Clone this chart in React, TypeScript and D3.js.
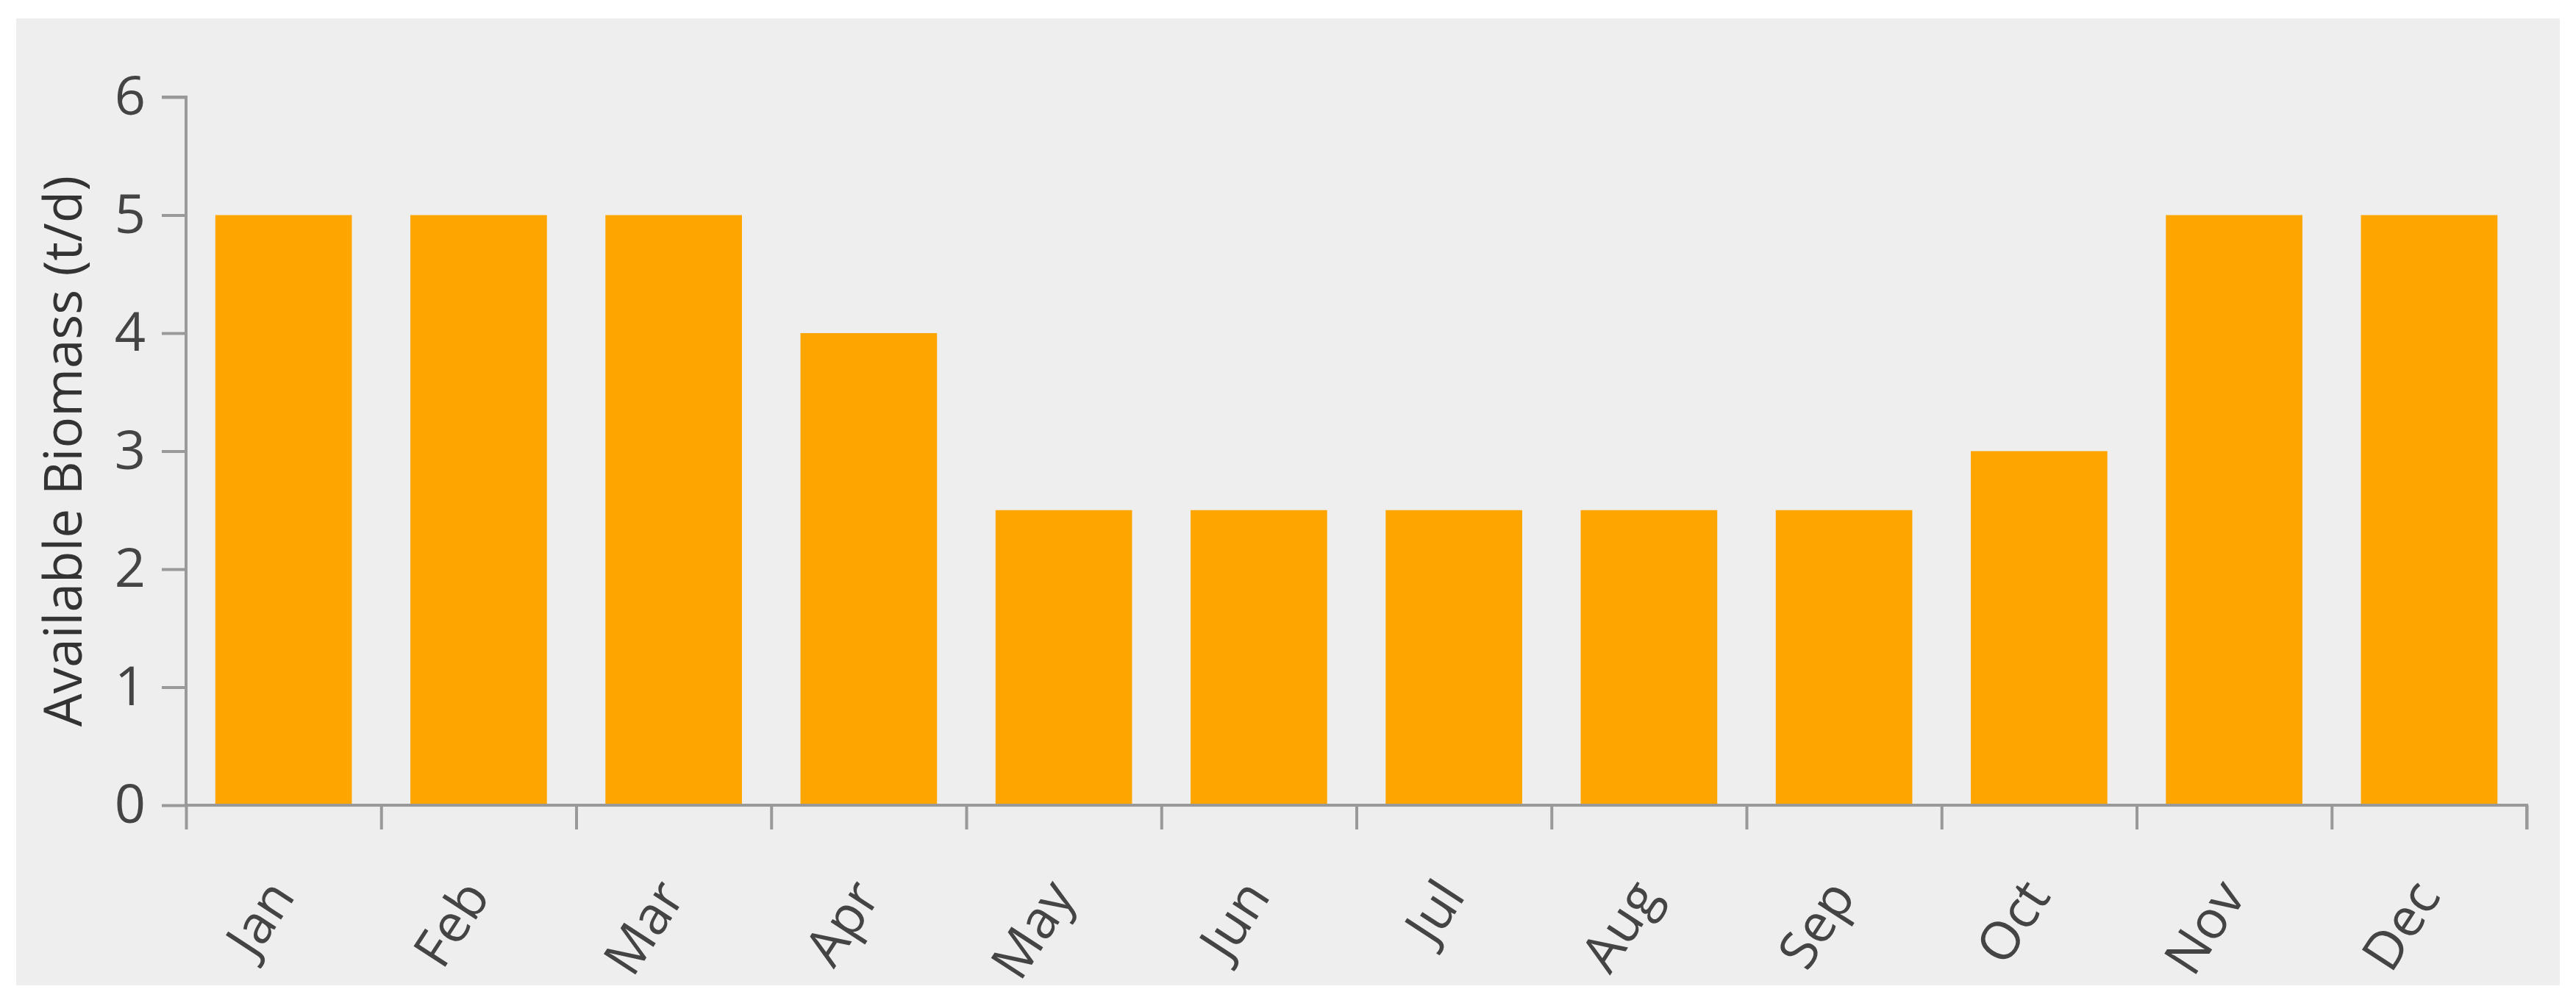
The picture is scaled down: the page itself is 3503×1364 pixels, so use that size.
import * as d3 from "d3";
import { useRef, useEffect } from "react";

// month categories and biomass values (t/d)
const months = ["Jan", "Feb", "Mar", "Apr", "May", "Jun", "Jul", "Aug", "Sep", "Oct", "Nov", "Dec"];
const biomass = [5, 5, 5, 4, 2.5, 2.5, 2.5, 2.5, 2.5, 3, 5, 5];
const yTicks = [0, 1, 2, 3, 4, 5, 6];

const W = 3503;
const H = 1364;
const FONT = "'Open Sans', 'Noto Sans', sans-serif";

export default function App() {
  const svgRef = useRef<SVGSVGElement>(null);

  useEffect(() => {
    const svg = d3.select(svgRef.current);
    svg.selectAll("*").remove();

    // plot area
    const left = 253, right = 3436, top = 132, bottom = 1095;

    // chart panel background
    svg.append("rect").attr("x", 22).attr("y", 25).attr("width", 3459).attr("height", 1315).attr("fill", "#eeeeee");

    const x = d3.scaleBand().domain(months).range([left, right]).paddingInner(0.3).paddingOuter(0.15);
    const xEdges = d3.scaleLinear().domain([0, months.length]).range([left, right]);
    const y = d3.scaleLinear().domain([0, 6]).range([bottom, top]);

    // bars
    svg.append("g").selectAll("rect").data(biomass).join("rect")
      .attr("x", (d, i) => x(months[i])!)
      .attr("y", d => y(d))
      .attr("width", x.bandwidth())
      .attr("height", d => y(0) - y(d))
      .attr("fill", "#ffa500");

    // y axis
    const gy = svg.append("g").attr("transform", `translate(${left},0)`)
      .call(d3.axisLeft(y).tickValues(yTicks).tickSize(33).tickPadding(22).tickFormat(d3.format("d")));
    gy.select(".domain").attr("stroke", "#999").attr("stroke-width", 4).attr("d", `M-33,${top}H0V${bottom}`);
    gy.selectAll(".tick line").attr("stroke", "#999").attr("stroke-width", 4);
    gy.selectAll(".tick text").attr("fill", "#444").style("font-family", FONT).style("font-size", "74px");

    // x axis: ticks on band edges
    const gx = svg.append("g").attr("transform", `translate(0,${bottom})`)
      .call(d3.axisBottom(xEdges).ticks(12).tickSize(33).tickFormat(() => ""));
    gx.select(".domain").attr("stroke", "#999").attr("stroke-width", 4).attr("d", `M${left},0H${right}V33`);
    gx.selectAll(".tick line").attr("stroke", "#999").attr("stroke-width", 4);

    // rotated month labels
    svg.append("g").selectAll("text").data(months).join("text")
      .attr("transform", d => `translate(${x(d)! + x.bandwidth() / 2 - 4},${bottom + 110}) rotate(-57)`)
      .attr("text-anchor", "end")
      .attr("dy", "0.35em")
      .attr("fill", "#444")
      .style("font-family", FONT)
      .style("font-size", "72px")
      .text(d => d);

    // y axis title
    svg.append("text")
      .attr("transform", `translate(111,${(top + bottom) / 2}) rotate(-90)`)
      .attr("text-anchor", "middle")
      .attr("fill", "#333")
      .style("font-family", FONT)
      .style("font-size", "71px")
      .text("Available Biomass (t/d)");
  }, []);

  return (
    <svg ref={svgRef} width={W} height={H}
      style={{ position: "absolute", left: 0, top: 0, background: "#fff" }} />
  );
}
